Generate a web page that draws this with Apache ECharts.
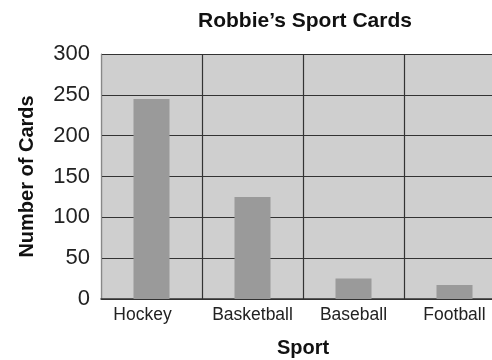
<!DOCTYPE html>
<html><head><meta charset="utf-8">
<script src="https://cdn.jsdelivr.net/npm/echarts@6/dist/echarts.min.js"></script>
<style>html,body{margin:0;padding:0;background:#fff}#c{width:492px;height:360px}</style>
</head><body><div id="c"></div>
<script>
const categories = ['Hockey', 'Basketball', 'Baseball', 'Football'];
const cardCounts = [245, 125, 25, 17];
const yTicks = [0, 50, 100, 150, 200, 250, 300];

const chart = echarts.init(document.getElementById('c'), null, {renderer: 'canvas'});
const font = 'Liberation Sans, Arial, sans-serif';
chart.setOption({
  animation: false,
  title: {
    text: 'Robbie’s Sport Cards',
    left: 300, top: 6, textAlign: 'center',
    textStyle: {fontFamily: font, fontSize: 21, fontWeight: 'bold', color: '#111'}
  },
  grid: {left: 101, top: 54, width: 404, height: 245, backgroundColor: '#cfcfcf', show: true, borderWidth: 0,
         containLabel: false, outerBoundsMode: 'none'},
  xAxis: {
    type: 'category', data: categories,
    name: 'Sport', nameLocation: 'middle', nameGap: 39,
    nameTextStyle: {fontFamily: font, fontSize: 20, fontWeight: 'bold', color: '#111'},
    axisLine: {lineStyle: {color: '#333', width: 1.5}},
    axisTick: {show: false},
    axisLabel: {
      interval: 0, fontFamily: font, fontSize: 17.5, color: '#222', margin: 7,
      formatter: (v, i) => i === 0 ? '{h|' + v + '}' : v,
      rich: {h: {fontFamily: font, fontSize: 17.5, color: '#222', padding: [0, 18, 0, 0]}}
    },
    splitLine: {show: true, interval: 0, lineStyle: {color: '#333', width: 1.2}}
  },
  yAxis: {
    type: 'value', min: yTicks[0], max: yTicks[yTicks.length - 1], interval: 50,
    name: 'Number of Cards', nameLocation: 'middle', nameGap: 64, nameRotate: 90,
    nameTextStyle: {fontFamily: font, fontSize: 20, fontWeight: 'bold', color: '#111'},
    axisLine: {show: true, lineStyle: {color: '#888', width: 1}},
    axisTick: {show: false},
    axisLabel: {fontFamily: font, fontSize: 22, color: '#222', margin: 11},
    splitLine: {show: true, lineStyle: {color: '#333', width: 1.2}}
  },
  series: [{
    type: 'bar', data: cardCounts, barWidth: 36,
    itemStyle: {color: '#9a9a9a'}
  }]
});
</script></body></html>
